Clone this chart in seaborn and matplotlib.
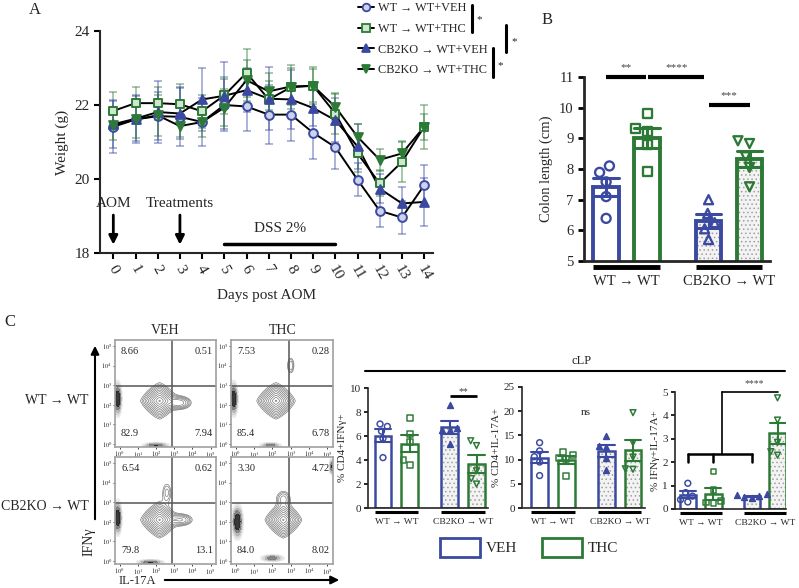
import numpy as np
import pandas as pd
import matplotlib
matplotlib.use("Agg")
import matplotlib.pyplot as plt
from matplotlib.lines import Line2D
from matplotlib.markers import MarkerStyle
from matplotlib.patches import Rectangle, FancyArrowPatch
import matplotlib.transforms as mtransforms
import seaborn as sns

# ---- panel A: body weight ----
days = list(range(15))
wt_veh = [21.41, 21.61, 21.70, 21.68, 21.54, 22.00, 21.96, 21.74, 21.74, 21.25, 20.86, 19.98, 19.14, 18.96, 19.83]
wt_thc = [21.84, 22.05, 22.05, 22.02, 21.83, 22.26, 22.87, 22.15, 22.48, 22.52, 21.77, 20.69, 19.88, 20.46, 21.41]
ko_veh = [21.48, 21.63, 21.81, 21.77, 22.15, 22.25, 22.40, 22.17, 22.15, 21.92, 21.59, 20.88, 19.74, 19.34, 19.38]
ko_thc = [21.45, 21.61, 21.72, 21.43, 21.54, 21.93, 22.67, 22.37, 22.50, 22.52, 21.95, 21.14, 20.52, 20.69, 21.41]
wt_veh_err = [0.70, 0.65, 0.65, 0.80, 0.65, 0.70, 0.65, 0.80, 0.70, 0.70, 0.60, 0.45, 0.45, 0.45, 0.55]
wt_thc_err = [0.50, 0.45, 0.45, 0.55, 0.45, 0.50, 0.65, 0.50, 0.60, 0.50, 0.55, 0.50, 0.35, 0.55, 0.60]
ko_veh_err = [0.65, 0.60, 0.85, 0.70, 0.85, 0.90, 0.60, 0.85, 0.80, 0.50, 0.60, 0.60, 0.40, 0.45, 0.65]
ko_thc_err = [0.40, 0.50, 0.55, 0.30, 0.40, 0.50, 0.55, 0.50, 0.50, 0.45, 0.35, 0.35, 0.30, 0.35, 0.35]
legend_labels = ["WT \u2192 WT+VEH", "WT \u2192 WT+THC", "CB2KO \u2192 WT+VEH", "CB2KO \u2192 WT+THC"]

# ---- bar panels (B and C) ----
GROUPS = ["WT \u2192 WT", "CB2KO \u2192 WT"]
TREATS = ["VEH", "THC"]
colon_wt_veh = [8.10, 7.89, 7.58, 7.10, 6.39]
colon_wt_thc = [9.81, 9.32, 9.21, 8.81, 7.91]
colon_ko_veh = [7.00, 6.55, 6.25, 6.05, 5.70]
colon_ko_thc = [8.92, 8.83, 8.40, 8.05, 7.42]

ifng_wt_veh = [7.0, 6.8, 6.4, 5.8, 4.2]
ifng_wt_thc = [7.5, 6.2, 5.5, 3.6, 3.97]
ifng_ko_veh = [8.6, 6.7, 6.5, 6.5, 5.3]
ifng_ko_thc = [5.6, 5.2, 3.1, 2.0, 2.45]

il17_wt_veh = [13.5, 11.8, 10.6, 9.5, 6.7]
il17_wt_thc = [11.6, 10.9, 10.4, 10.2, 6.6]
il17_ko_veh = [14.9, 12.8, 12.7, 10.4, 7.9]
il17_ko_thc = [19.7, 13.5, 10.5, 8.0, 8.1]

dp_wt_veh = [1.10, 0.70, 0.55, 0.40, 0.30]
dp_wt_thc = [1.60, 0.80, 0.35, 0.28, 0.27]
dp_ko_veh = [0.62, 0.58, 0.55, 0.50, 0.47]
dp_ko_thc = [4.75, 3.80, 2.85, 2.30, 2.45]

# ---- panel C: flow plots, populations as (kind, x, y, sx, sy, weight) in decades ----
flow_wt_veh = [("d", 2.2, 2.2, 0.45, 0.4, 1.0), ("g", 3.3, 2.1, 0.35, 0.18, 0.25),
               ("f", -0.1, 2.3, 0.12, 0.45, 1.0), ("f", 2.0, -0.08, 0.4, 0.09, 0.7)]
flow_wt_thc = [("d", 2.2, 2.2, 0.45, 0.4, 1.0), ("g", 3.0, 4.0, 0.13, 0.28, 0.12),
               ("f", -0.1, 2.3, 0.12, 0.45, 1.0), ("f", 1.9, -0.08, 0.32, 0.09, 0.6)]
flow_ko_veh = [("d", 2.2, 2.1, 0.45, 0.4, 1.0), ("g", 3.4, 2.1, 0.35, 0.17, 0.2),
               ("g", 2.6, 3.5, 0.18, 0.35, 0.1),
               ("f", -0.1, 2.2, 0.12, 0.45, 1.0), ("f", 1.7, -0.08, 0.4, 0.09, 0.7)]
flow_ko_thc = [("d", 2.6, 2.1, 0.43, 0.4, 1.0), ("g", 2.6, 3.2, 0.25, 0.25, 0.12),
               ("f", 0.1, 2.0, 0.16, 0.45, 1.0), ("f", 2.0, 0.15, 0.35, 0.1, 0.6),
               ("f", 5.25, 4.8, 0.09, 0.22, 0.7)]
pct_wt_veh = ["8.66", "0.51", "82.9", "7.94"]
pct_wt_thc = ["7.53", "0.28", "85.4", "6.78"]
pct_ko_veh = ["6.54", "0.62", "79.8", "13.1"]
pct_ko_thc = ["3.30", "4.72", "84.0", "8.02"]
gate_x = 2.9
gate_y = 2.95

BLUE = "#3b4aa0"
GREEN = "#2d7a37"
LBLUE = "#cdd2ee"
LGREEN = "#cfe6cf"
PAL = {"VEH": BLUE, "THC": GREEN}

sns.set_theme(style="ticks")
plt.rcParams['font.family'] = ['Liberation Serif', 'DejaVu Serif']
plt.rcParams['mathtext.fontset'] = 'stix'
plt.rcParams['hatch.linewidth'] = 0.6

W, H = 799, 588
fig = plt.figure(figsize=(W / 100, H / 100), dpi=100)


def px(x, y):
    return (x / W, 1 - y / H)


def add_ax(l, t, r, b):
    return fig.add_axes([l / W, 1 - b / H, (r - l) / W, (b - t) / H])


def fig_line(xs, ys, lw=2.2):
    pts = [px(x, y) for x, y in zip(xs, ys)]
    fig.add_artist(Line2D([p[0] for p in pts], [p[1] for p in pts], color="black",
                          lw=lw, transform=fig.transFigure))


def style_axis(ax, lw=1.5, size=10):
    sns.despine(ax=ax)
    for s in ["left", "bottom"]:
        ax.spines[s].set_linewidth(lw)
    ax.tick_params(width=lw, length=4, labelsize=size, color="black")


# ================= panel A =================
axA = add_ax(100, 31, 433, 253)
series = [(wt_veh, wt_veh_err, "o", BLUE, LBLUE),
          (wt_thc, wt_thc_err, "s", GREEN, LGREEN),
          (ko_veh, ko_veh_err, "^", BLUE, BLUE),
          (ko_thc, ko_thc_err, "v", GREEN, GREEN)]
for vals, err, m, col, fc in series:
    axA.errorbar(days, vals, yerr=err, fmt="none", ecolor=col, alpha=0.45,
                 capsize=3, elinewidth=1.3, capthick=1.3, zorder=2)
    sns.lineplot(x=days, y=vals, color="black", lw=1.4, ax=axA, zorder=3)
    n0 = len(axA.collections)
    sns.scatterplot(x=days, y=vals, marker=m, s=40, color=col, edgecolor=col,
                    linewidth=1.4, zorder=4, ax=axA)
    for c in axA.collections[n0:]:
        c.set_facecolor(fc)
axA.set_xlim(-0.6, 14.4)
axA.set_ylim(18, 24)
axA.set_yticks([18, 20, 22, 24])
axA.set_xticks(days)
axA.set_xticklabels([str(d) for d in days], rotation=-60)
style_axis(axA, size=11)
axA.set_xlabel("Days post AOM", fontsize=11)
axA.set_ylabel("Weight (g)", fontsize=11)
for d, lab in [(0, "AOM"), (3, "Treatments")]:
    axA.annotate("", xy=(d, 18.15), xytext=(d, 19.1),
                 arrowprops=dict(arrowstyle="-|>", lw=2, color="black", mutation_scale=13))
    axA.text(d, 19.33, lab, ha="center", va="center", fontsize=11)
axA.plot([5, 10], [18.25, 18.25], color="black", lw=2.5)
axA.text(7.5, 18.65, "DSS 2%", ha="center", va="center", fontsize=11)

handles = [Line2D([0], [0], color="black", lw=1.4, marker=m, markersize=5.5,
                  markerfacecolor=fc, markeredgecolor=col, markeredgewidth=1.3)
           for _, _, m, col, fc in series]
fig.legend(handles, legend_labels, loc="upper left", bbox_to_anchor=px(358, 2),
           frameon=False, fontsize=8.8, handlelength=1.3, handletextpad=0.35,
           labelspacing=0.72, borderpad=0, borderaxespad=0)
fig_line([472, 472], [5, 32])
fig.text(*px(479, 20), "*", fontsize=8, ha="center", va="center")
fig_line([506, 506], [25, 52])
fig.text(*px(514, 42), "*", fontsize=8, ha="center", va="center")
fig_line([493, 493], [48, 77])
fig.text(*px(500, 66), "*", fontsize=8, ha="center", va="center")


# ================= bar panels =================
MARKERS = {(GROUPS[0], "VEH"): "o", (GROUPS[0], "THC"): "s",
           (GROUPS[1], "VEH"): "^", (GROUPS[1], "THC"): "v"}


def make_df(wv, wt, kv, kt):
    rows = ([(GROUPS[0], "VEH", v) for v in wv] + [(GROUPS[0], "THC", v) for v in wt] +
            [(GROUPS[1], "VEH", v) for v in kv] + [(GROUPS[1], "THC", v) for v in kt])
    return pd.DataFrame(rows, columns=["group", "treat", "value"])


def treat_at(x):
    return "VEH" if x - round(x) < 0 else "THC"


def bar_panel(ax, df, lw, msize, hollow, err_lw):
    sns.barplot(data=df, x="group", y="value", hue="treat", order=GROUPS,
                hue_order=TREATS, palette=PAL, width=0.8, gap=0.37,
                errorbar="se", capsize=0.5, fill=False, linewidth=lw,
                err_kws={"linewidth": err_lw}, legend=False, ax=ax)
    for p in list(ax.patches):
        p.set_zorder(2)
        if p.get_x() > 0.5 and p.get_height() > 0:
            ax.add_patch(Rectangle((p.get_x(), 0), p.get_width(), p.get_height(),
                                   facecolor="#f3f3f3", edgecolor="#a0a0a0",
                                   hatch="....", lw=0, zorder=1))
    for ln in ax.lines:
        xm = np.nanmean(ln.get_xdata())
        ln.set_color(PAL[treat_at(xm)])
        ln.set_zorder(5)
    n0 = len(ax.collections)
    sns.swarmplot(data=df, x="group", y="value", hue="treat", order=GROUPS,
                  hue_order=TREATS, dodge=True, palette=PAL, size=msize,
                  legend=False, ax=ax)
    for c in ax.collections[n0:]:
        off = c.get_offsets()
        if len(off) == 0:
            continue
        xm = float(np.mean(off[:, 0]))
        key = (GROUPS[int(round(xm))], treat_at(xm))
        ms = MarkerStyle(MARKERS[key])
        c.set_paths([ms.get_path().transformed(ms.get_transform())])
        col = PAL[key[1]]
        c.set_edgecolor(col)
        c.set_linewidth(lw * 0.6)
        c.set_facecolor("none" if hollow[key] else col)
        c.set_zorder(4)


def under_bars(ax, y, lw):
    tr = mtransforms.blended_transform_factory(ax.transData, ax.transAxes)
    for c in [0.0, 1.0]:
        ax.plot([c - 0.326, c + 0.326], [y, y], color="black", lw=lw,
                transform=tr, clip_on=False, solid_capstyle="butt")


def sig(ax, x1, x2, y, text, ty, lw, fs):
    ax.plot([x1, x2], [y, y], color="black", lw=lw, clip_on=False, solid_capstyle="butt")
    ax.text((x1 + x2) / 2, ty, text, ha="center", va="center", fontsize=fs,
            color="#444444", clip_on=False)


# ---- panel B ----
axB = add_ax(584, 77, 770, 261)
hollowB = {(g, t): True for g in GROUPS for t in TREATS}
bar_panel(axB, make_df(colon_wt_veh, colon_wt_thc, colon_ko_veh, colon_ko_thc),
          lw=2.8, msize=6.5, hollow=hollowB, err_lw=2.2)
axB.set_xlim(-0.416, 1.4)
axB.set_ylim(5, 11)
axB.set_yticks(range(5, 12))
style_axis(axB, lw=2, size=10.5)
axB.tick_params(axis="x", length=0, pad=10)
axB.set_xlabel("")
axB.set_ylabel("Colon length (cm)", fontsize=10.5)
under_bars(axB, -0.035, 3.5)
sig(axB, -0.2, 0.19, 11.0, "**", 11.3, 3, 8)
sig(axB, 0.21, 0.76, 11.0, "****", 11.3, 3, 8)
sig(axB, 0.8, 1.2, 10.1, "***", 10.4, 3, 8)

# ---- panel C bars ----
hollowC = {(GROUPS[0], "VEH"): True, (GROUPS[0], "THC"): True,
           (GROUPS[1], "VEH"): False, (GROUPS[1], "THC"): True}
c_specs = [
    ((368, 388, 488, 508), (ifng_wt_veh, ifng_wt_thc, ifng_ko_veh, ifng_ko_thc),
     (0, 10), [0, 2, 4, 6, 8, 10], "% CD4+IFN\u03b3+", (-0.424, 1.372)),
    ((522, 387, 645, 508), (il17_wt_veh, il17_wt_thc, il17_ko_veh, il17_ko_thc),
     (0, 25), [0, 5, 10, 15, 20, 25], "% CD4+IL-17A+", (-0.464, 1.38)),
    ((675, 392, 786, 509), (dp_wt_veh, dp_wt_thc, dp_ko_veh, dp_ko_thc),
     (0, 5), [0, 1, 2, 3, 4, 5], "% IFN\u03b3+IL-17A+", (-0.4, 1.332)),
]
c_axes = []
for box, data, ylim, yt, ylab, xlim in c_specs:
    ax = add_ax(*box)
    bar_panel(ax, make_df(*data), lw=1.8, msize=4.2, hollow=hollowC, err_lw=1.5)
    ax.set_xlim(*xlim)
    ax.set_ylim(*ylim)
    ax.set_yticks(yt)
    style_axis(ax, lw=1.2, size=8)
    ax.tick_params(axis="x", length=0, pad=7, labelsize=6.8)
    ax.tick_params(axis="y", length=3, pad=2)
    ax.set_xlabel("")
    ax.set_ylabel(ylab, fontsize=8, labelpad=2)
    under_bars(ax, -0.03, 2.2)
    c_axes.append(ax)

sig(c_axes[0], 0.8, 1.2, 9.3, "**", 9.7, 2, 7)
c_axes[1].text(0.485, 19.7, "ns", ha="center", va="center", fontsize=8)
ax3 = c_axes[2]
for x in [-0.2, 0.2, 0.8]:
    ax3.plot([x, x], [2.0, 2.35], color="black", lw=1.8, clip_on=False)
ax3.plot([-0.2, 0.8], [2.35, 2.35], color="black", lw=1.8, clip_on=False)
ax3.plot([0.333, 0.333], [2.35, 5.0], color="black", lw=1.2, clip_on=False)
ax3.plot([0.333, 1.2], [5.0, 5.0], color="black", lw=1.2, clip_on=False)
ax3.text(0.84, 5.35, "****", ha="center", va="center", fontsize=7, color="#444444")

# cLP header and legend
fig_line([365, 785], [371, 371], lw=1.5)
fig.text(*px(582, 361), "cLP", ha="center", va="center", fontsize=9)
for x0, col, lab in [(440, BLUE, "VEH"), (542, GREEN, "THC")]:
    fig.add_artist(Rectangle(px(x0, 557), 40 / W, 19 / H, fill=False, edgecolor=col,
                             lw=2, transform=fig.transFigure))
    fig.text(*px(x0 + 46, 548), lab, ha="left", va="center", fontsize=11)


# ================= panel C flow =================
def flow_panel(ax, comps, pcts):
    gx = np.linspace(-0.3, 5.4, 300)
    X, Y = np.meshgrid(gx, gx)
    Z = np.zeros_like(X)
    F = np.zeros_like(X)
    for kind, cx, cy, sx, sy, w in comps:
        if kind == "d":
            Z += w * np.exp(-((np.abs(X - cx) / sx) ** 1.3 + (np.abs(Y - cy) / sy) ** 1.3))
        elif kind == "g":
            Z += w * np.exp(-0.5 * (((X - cx) / sx) ** 2 + ((Y - cy) / sy) ** 2))
        else:
            F += w * np.exp(-0.5 * (((X - cx) / sx) ** 2 + ((Y - cy) / sy) ** 2))
    ax.contour(X, Y, Z, levels=np.geomspace(0.05, 0.95, 11) * Z.max(),
               colors="#707070", linewidths=0.45)
    ax.contourf(X, Y, F, levels=np.geomspace(0.1, 1.0, 7) * F.max(),
                cmap="Greys", alpha=0.9, vmin=0, vmax=F.max() * 0.95)
    ax.axvline(gate_x, color="#555555", lw=1.1)
    ax.axhline(gate_y, color="#555555", lw=1.1)
    ax.set_xlim(-0.25, 5.3)
    ax.set_ylim(-0.15, 5.3)
    ticks = list(range(6))
    labs = [r"$10^{%d}$" % k for k in ticks]
    ax.set_xticks(ticks)
    ax.set_yticks(ticks)
    ax.set_xticklabels(labs)
    ax.set_yticklabels(labs)
    ax.tick_params(labelsize=4.6, length=1.5, width=0.6, pad=0.5)
    for s in ax.spines.values():
        s.set_color("#a0a0a0")
        s.set_linewidth(1.2)
    kw = dict(fontsize=7.5, transform=ax.transAxes, va="center")
    ax.text(0.06, 0.89, pcts[0], ha="left", **kw)
    ax.text(0.97, 0.89, pcts[1], ha="right", **kw)
    ax.text(0.06, 0.13, pcts[2], ha="left", **kw)
    ax.text(0.97, 0.13, pcts[3], ha="right", **kw)


flow_boxes = [((115, 340, 216, 447), flow_wt_veh, pct_wt_veh),
              ((231, 340, 333, 447), flow_wt_thc, pct_wt_thc),
              ((115, 457, 216, 564), flow_ko_veh, pct_ko_veh),
              ((231, 457, 333, 564), flow_ko_thc, pct_ko_thc)]
for box, comps, pcts in flow_boxes:
    flow_panel(add_ax(*box), comps, pcts)

fig.text(*px(165, 330), "VEH", ha="center", va="center", fontsize=10)
fig.text(*px(283, 330), "THC", ha="center", va="center", fontsize=10)
fig.text(*px(57, 401), "WT \u2192 WT", ha="center", va="center", fontsize=10)
fig.text(*px(45, 507), "CB2KO \u2192 WT", ha="center", va="center", fontsize=10)
fig.add_artist(FancyArrowPatch(px(95, 522), px(95, 343), arrowstyle="-|>",
                               mutation_scale=12, lw=1.5, color="black",
                               transform=fig.transFigure))
fig.text(*px(89, 542), "IFN\u03b3", ha="center", va="center", fontsize=10, rotation=90)
fig.add_artist(FancyArrowPatch(px(162, 580), px(342, 580), arrowstyle="-|>",
                               mutation_scale=12, lw=1.5, color="black",
                               transform=fig.transFigure))
fig.text(*px(137, 587.5), "IL-17A", ha="center", va="bottom", fontsize=9)

# panel letters
fig.text(*px(35, 10), "A", ha="center", va="center", fontsize=12)
fig.text(*px(547, 20), "B", ha="center", va="center", fontsize=12)
fig.text(*px(10, 322), "C", ha="center", va="center", fontsize=12)

fig.savefig("out.png", dpi=100)
